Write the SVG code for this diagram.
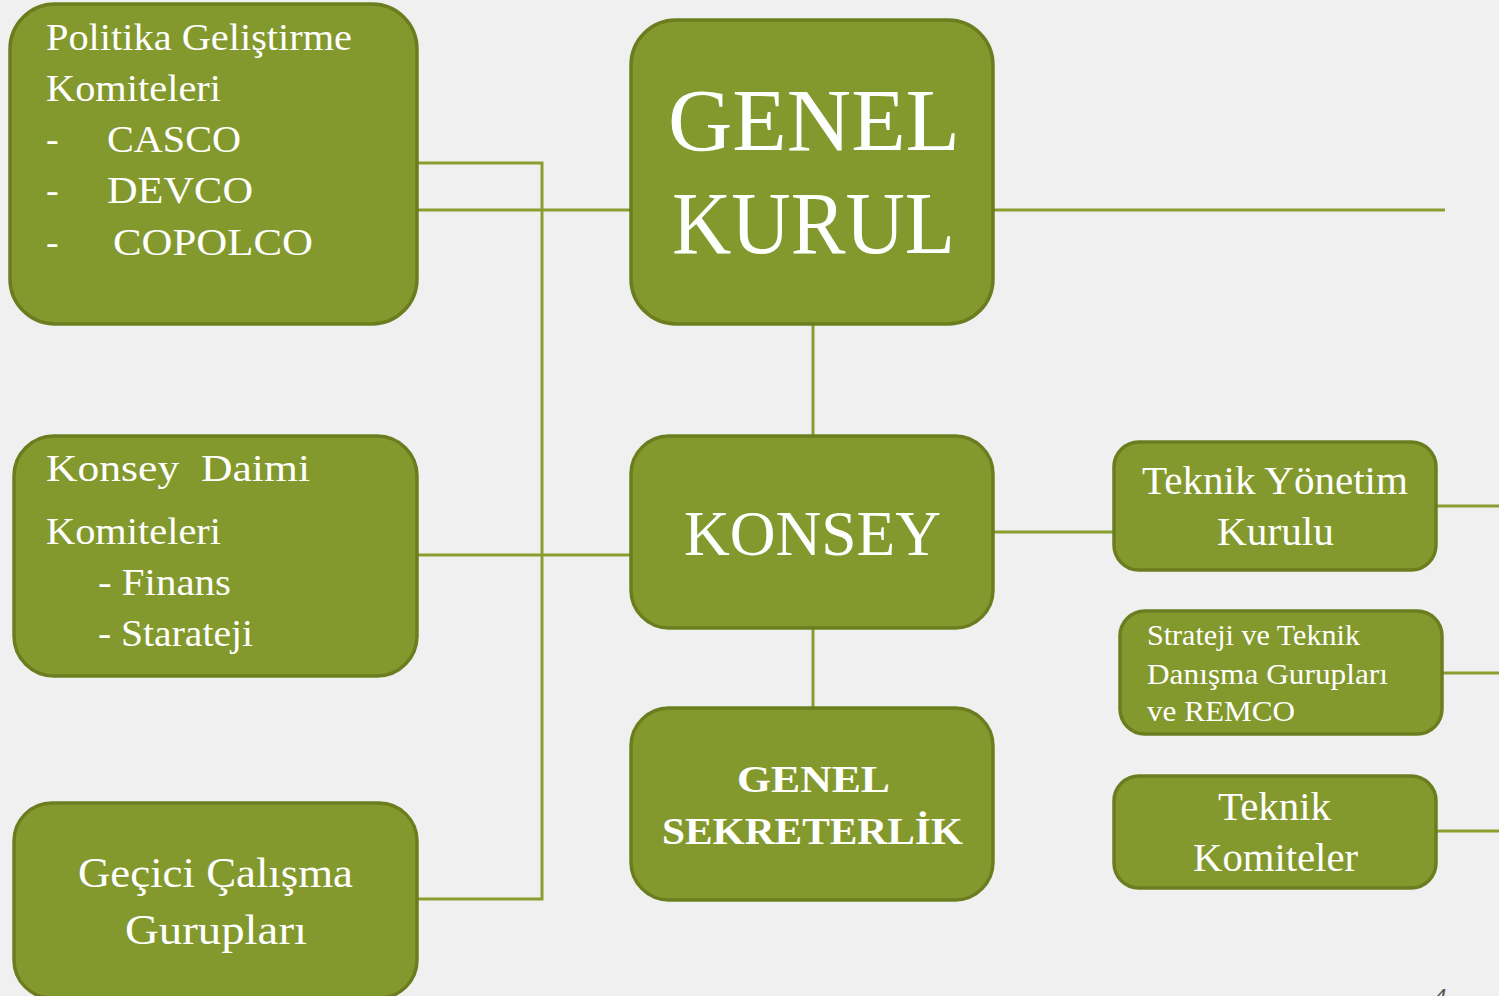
<svg xmlns="http://www.w3.org/2000/svg" width="1499" height="996" viewBox="0 0 1499 996">
<style>
.box{fill:#84992d;stroke:#6b7d1f;stroke-width:3.5}
.t{fill:#ffffff;font-family:"Liberation Serif",serif}
.c{stroke:#8a9e30;stroke-width:3;fill:none}
</style>
<rect width="1499" height="996" fill="#f0f0f0"/>
<g id="connectors">
<path class="c" d="M417,163 H542 V899 H417"/>
<path class="c" d="M417,210 H631"/>
<path class="c" d="M417,555 H631"/>
<path class="c" d="M993,210 H1445"/>
<path class="c" d="M813,324 V436"/>
<path class="c" d="M813,628 V708"/>
<path class="c" d="M993,532 H1114"/>
<path class="c" d="M1436,506 H1499"/>
<path class="c" d="M1442,673 H1499"/>
<path class="c" d="M1436,831 H1499"/>
</g>
<g id="politika">
<rect class="box" x="10" y="4" width="407" height="320" rx="45"/>
<text class="t" font-size="38" lengthAdjust="spacingAndGlyphs">
<tspan x="46" y="50" textLength="306" lengthAdjust="spacingAndGlyphs">Politika Geliştirme</tspan>
</text>
<text class="t" font-size="38" x="46" y="101" textLength="175" lengthAdjust="spacingAndGlyphs">Komiteleri</text>
<text class="t" font-size="38" x="46" y="152">-</text>
<text class="t" font-size="38" x="107" y="152" textLength="134" lengthAdjust="spacingAndGlyphs">CASCO</text>
<text class="t" font-size="38" x="46" y="203">-</text>
<text class="t" font-size="38" x="107" y="203" textLength="146" lengthAdjust="spacingAndGlyphs">DEVCO</text>
<text class="t" font-size="38" x="46" y="255">-</text>
<text class="t" font-size="38" x="113" y="255" textLength="200" lengthAdjust="spacingAndGlyphs">COPOLCO</text>
</g>
<g id="genel-kurul">
<rect class="box" x="631" y="20" width="362" height="304" rx="45"/>
<text class="t" font-size="88" x="668" y="150" textLength="292" lengthAdjust="spacingAndGlyphs">GENEL</text>
<text class="t" font-size="88" x="672" y="253" textLength="283" lengthAdjust="spacingAndGlyphs">KURUL</text>
</g>
<g id="konsey-daimi">
<rect class="box" x="14" y="436" width="403" height="240" rx="40"/>
<text class="t" font-size="38" x="46" y="481" textLength="264" lengthAdjust="spacingAndGlyphs" xml:space="preserve">Konsey  Daimi</text>
<text class="t" font-size="38" x="46" y="544" textLength="175" lengthAdjust="spacingAndGlyphs">Komiteleri</text>
<text class="t" font-size="38" x="98" y="595" textLength="133" lengthAdjust="spacingAndGlyphs">- Finans</text>
<text class="t" font-size="38" x="98" y="646" textLength="155" lengthAdjust="spacingAndGlyphs">- Starateji</text>
</g>
<g id="konsey">
<rect class="box" x="631" y="436" width="362" height="192" rx="38"/>
<text class="t" font-size="64" x="684" y="555" textLength="257" lengthAdjust="spacingAndGlyphs">KONSEY</text>
</g>
<g id="gecici">
<rect class="box" x="14" y="803" width="403" height="195" rx="38"/>
<text class="t" font-size="43" x="78" y="887" textLength="275" lengthAdjust="spacingAndGlyphs">Geçici Çalışma</text>
<text class="t" font-size="43" x="125" y="944" textLength="182" lengthAdjust="spacingAndGlyphs">Gurupları</text>
</g>
<g id="genel-sekreterlik">
<rect class="box" x="631" y="708" width="362" height="192" rx="38"/>
<text class="t" font-size="38" font-weight="bold" x="737" y="792" textLength="153" lengthAdjust="spacingAndGlyphs">GENEL</text>
<text class="t" font-size="38" font-weight="bold" x="662" y="844" textLength="301" lengthAdjust="spacingAndGlyphs">SEKRETERLİK</text>
</g>
<g id="teknik-yonetim">
<rect class="box" x="1114" y="442" width="322" height="128" rx="25"/>
<text class="t" font-size="40" x="1142" y="494" textLength="266" lengthAdjust="spacingAndGlyphs">Teknik Yönetim</text>
<text class="t" font-size="40" x="1217" y="545" textLength="117" lengthAdjust="spacingAndGlyphs">Kurulu</text>
</g>
<g id="strateji">
<rect class="box" x="1120" y="611" width="322" height="123" rx="25"/>
<text class="t" font-size="29" x="1147" y="645" textLength="213" lengthAdjust="spacingAndGlyphs">Strateji ve Teknik</text>
<text class="t" font-size="29" x="1147" y="684" textLength="241" lengthAdjust="spacingAndGlyphs">Danışma Gurupları</text>
<text class="t" font-size="29" x="1147" y="721" textLength="148" lengthAdjust="spacingAndGlyphs">ve REMCO</text>
</g>
<g id="teknik-komiteler">
<rect class="box" x="1114" y="776" width="322" height="112" rx="25"/>
<text class="t" font-size="40" x="1218" y="820" textLength="113" lengthAdjust="spacingAndGlyphs">Teknik</text>
<text class="t" font-size="40" x="1193" y="871" textLength="165" lengthAdjust="spacingAndGlyphs">Komiteler</text>
</g>
<text x="1434" y="1004" font-size="22" fill="#555555" font-family="Liberation Sans,sans-serif" font-style="italic">4</text>
</svg>
